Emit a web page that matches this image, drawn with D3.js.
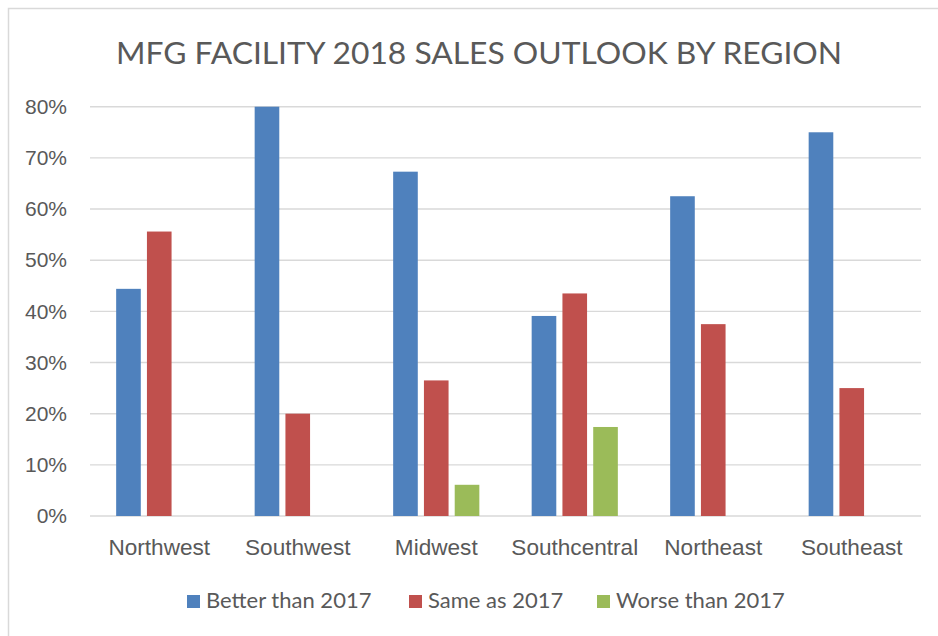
<!DOCTYPE html>
<html>
<head>
<meta charset="utf-8">
<script src="https://cdn.jsdelivr.net/npm/d3@7"></script>
<style>
  html, body { margin: 0; padding: 0; background: #fff; }
  svg { display: block; font-family: Lato, "Open Sans", sans-serif; }
  .grid line { stroke: #d9d9d9; stroke-width: 1.4; }
  .lbl { fill: #595959; }
</style>
</head>
<body>
<svg id="chart" width="938" height="636"></svg>
<script>
/* Données (en %) */
var regions = ['Northwest', 'Southwest', 'Midwest', 'Southcentral', 'Northeast', 'Southeast'];
var seriesNames = ['Better than 2017', 'Same as 2017', 'Worse than 2017'];
var better = [44.4, 80.0, 67.3, 39.1, 62.5, 75.0];
var same   = [55.6, 20.0, 26.5, 43.5, 37.5, 25.0];
var worse  = [0, 0, 6.1, 17.4, 0, 0];
var yTicks = [0, 10, 20, 30, 40, 50, 60, 70, 80];
var colors = ['#4f81bd', '#c0504d', '#9bbb59'];
var title  = 'MFG FACILITY 2018 SALES OUTLOOK BY REGION';

(function () {
  'use strict';

  var svg = d3.select('#chart');
  var values = [better, same, worse];

  /* ──────────────────────────────────────────────
   * CADRE + TITRE
   * ────────────────────────────────────────────── */
  svg.append('rect')
    .attr('x', 8.5).attr('y', 8.5)
    .attr('width', 960).attr('height', 660)
    .attr('fill', '#fff')
    .attr('stroke', '#d9d9d9')
    .attr('stroke-width', 1.5);

  svg.append('text')
    .attr('class', 'lbl')
    .attr('x', 479).attr('y', 64)
    .attr('text-anchor', 'middle')
    .style('font-size', '31.8px')
    .text(title);

  /* ──────────────────────────────────────────────
   * ÉCHELLES
   * ────────────────────────────────────────────── */
  var x0 = d3.scaleBand().domain(regions).range([90, 921]).padding(0);
  var x1 = d3.scaleBand().domain(seriesNames)
    .range([0, x0.bandwidth()])
    .paddingInner(0.2).paddingOuter(0.85);
  var y = d3.scaleLinear().domain([0, 80]).range([516, 106.7]);

  /* Quadrillage horizontal */
  var grid = svg.append('g').attr('class', 'grid');
  grid.selectAll('line')
    .data(yTicks)
    .enter().append('line')
    .attr('x1', 90).attr('x2', 921)
    .attr('y1', function (d) { return y(d); })
    .attr('y2', function (d) { return y(d); });

  /* Axe Y (libellés seulement) */
  var yAxis = svg.append('g')
    .attr('transform', 'translate(67,0)')
    .call(d3.axisLeft(y).tickValues(yTicks).tickSize(0).tickPadding(0)
      .tickFormat(function (d) { return d + '%'; }));
  yAxis.select('.domain').remove();
  yAxis.selectAll('text')
    .attr('class', 'lbl')
    .attr('fill', null)
    .style('font-size', '21px')
    .style('font-family', 'inherit');

  /* Axe X (libellés seulement) */
  var xAxis = svg.append('g')
    .attr('transform', 'translate(0,516)')
    .call(d3.axisBottom(x0).tickSize(0).tickPadding(0));
  xAxis.select('.domain').remove();
  xAxis.selectAll('text')
    .attr('class', 'lbl')
    .attr('fill', null)
    .attr('dy', null)
    .attr('y', 39)
    .style('font-size', '22.6px')
    .style('font-family', 'inherit');

  /* ──────────────────────────────────────────────
   * BARRES
   * ────────────────────────────────────────────── */
  var groups = svg.append('g').selectAll('g')
    .data(regions)
    .enter().append('g')
    .attr('transform', function (d) { return 'translate(' + x0(d) + ',0)'; });

  groups.selectAll('rect')
    .data(function (d, i) {
      return seriesNames.map(function (s, k) { return { s: s, k: k, v: values[k][i] }; })
        .filter(function (o) { return o.v > 0; });
    })
    .enter().append('rect')
    .attr('x', function (d) { return x1(d.s); })
    .attr('width', x1.bandwidth())
    .attr('y', function (d) { return y(d.v); })
    .attr('height', function (d) { return y(0) - y(d.v); })
    .attr('fill', function (d) { return colors[d.k]; });

  /* ──────────────────────────────────────────────
   * LÉGENDE
   * ────────────────────────────────────────────── */
  var legendX = [187, 409, 597];
  var legend = svg.append('g').selectAll('g')
    .data(seriesNames)
    .enter().append('g')
    .attr('transform', function (d, i) { return 'translate(' + legendX[i] + ',595)'; });

  legend.append('rect')
    .attr('width', 13).attr('height', 13)
    .attr('fill', function (d, i) { return colors[i]; });

  legend.append('text')
    .attr('class', 'lbl')
    .attr('x', 19).attr('y', 13)
    .style('font-size', '22px')
    .text(function (d) { return d; });
})();
</script>
</body>
</html>
